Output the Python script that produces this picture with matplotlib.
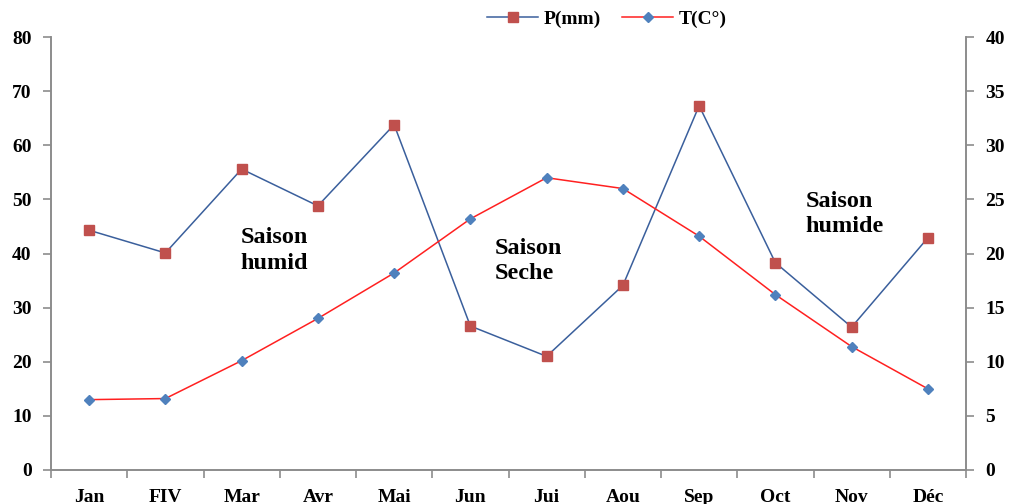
import matplotlib.pyplot as plt
import numpy as np

months = ['Jan', 'FIV', 'Mar', 'Avr', 'Mai', 'Jun', 'Jui', 'Aou', 'Sep', 'Oct', 'Nov', 'Déc']
precip_mm = [44.3, 40.1, 55.6, 48.8, 63.8, 26.6, 21.0, 34.1, 67.3, 38.3, 26.4, 42.9]
temp_c = [6.5, 6.6, 10.1, 14.0, 18.2, 23.2, 27.0, 26.0, 21.6, 16.2, 11.4, 7.5]

plt.rcParams['font.family'] = ['Liberation Serif', 'DejaVu Serif']
plt.rcParams['font.weight'] = 'bold'

fig = plt.figure(figsize=(10.09, 5.04), dpi=100)
ax = fig.add_axes([51 / 1009, 34 / 504, 915 / 1009, 433 / 504])
ax2 = ax.twinx()

x = np.arange(len(months))
spine_col = '#8c8c8c'

# precipitation on the left axis, temperature on the right
lp, = ax.plot(x, precip_mm, color='#3a5f9c', lw=1.1, marker='s', ms=7,
              mfc='#c0504d', mec='#c0504d', label='P(mm)', zorder=3)
lt, = ax2.plot(x, temp_c, color='#ff2020', lw=1.1, marker='D', ms=5,
               mfc='#4f81bd', mec='#4f81bd', label='T(C°)', zorder=3)

ax.set_xlim(-0.5, 11.5)
ax.set_ylim(0, 80)
ax2.set_ylim(0, 40)
ax.set_yticks(range(0, 81, 10))
ax2.set_yticks(range(0, 41, 5))
ax.set_xticks(x)
ax.set_xticklabels(months)
ax.set_xticks(np.arange(-0.5, 12, 1), minor=True)

for a in (ax, ax2):
    a.spines['top'].set_visible(False)
    for s in ('left', 'right', 'bottom'):
        a.spines[s].set_color(spine_col)
        a.spines[s].set_linewidth(1.2)

ax.tick_params(axis='x', which='major', length=0, pad=14, labelsize=14)
ax.tick_params(axis='x', which='minor', length=6, color=spine_col, width=1.2)
ax.tick_params(axis='y', length=6, color=spine_col, width=1.2, labelsize=14, pad=8)
ax2.tick_params(axis='y', length=6, color=spine_col, width=1.2, labelsize=14, pad=8)

for lbl in ax.get_xticklabels() + ax.get_yticklabels() + ax2.get_yticklabels():
    lbl.set_fontweight('bold')

season_kw = dict(fontsize=17.5, fontweight='bold', ha='left', va='center', linespacing=1.3)
ax.text(1.99, 40.6, 'Saison\nhumid', **season_kw)
ax.text(5.32, 38.6, 'Saison\nSeche', **season_kw)
ax.text(9.40, 47.3, 'Saison\nhumide', **season_kw)

fig.legend(handles=[lp, lt], loc='center', bbox_to_anchor=(607 / 1009, 1 - 19 / 504),
           ncol=2, frameon=False, prop={'size': 14, 'weight': 'bold'},
           handlelength=2.6, columnspacing=1.1, handletextpad=0.3)

fig.savefig('out.png', dpi=100)
